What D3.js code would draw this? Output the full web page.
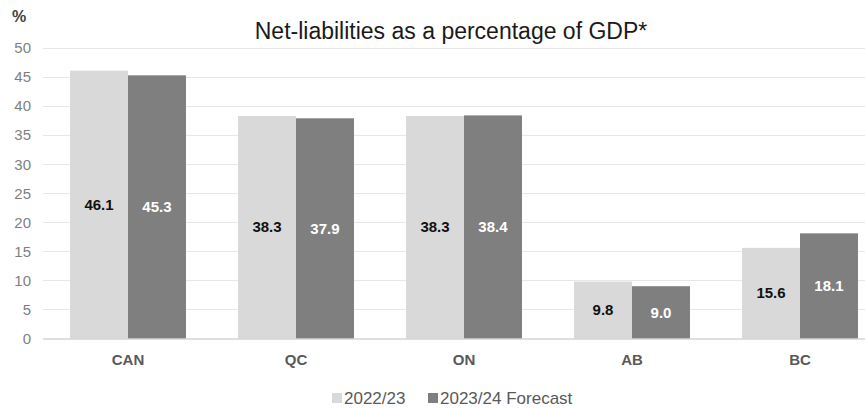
<!DOCTYPE html>
<html>
<head>
<meta charset="utf-8">
<script src="https://cdn.jsdelivr.net/npm/d3@7"></script>
<style>
  body { margin: 0; background: #fff; }
  svg { display: block; font-family: "Liberation Sans", Arial, sans-serif; }
</style>
</head>
<body>
<div id="chart"></div>
<script>
// Data
const provinces = ["CAN", "QC", "ON", "AB", "BC"];
const seriesNames = ["2022/23", "2023/24 Forecast"];
const values2022 = [46.1, 38.3, 38.3, 9.8, 15.6];
const values2023 = [45.3, 37.9, 38.4, 9.0, 18.1];
const yTicks = [0, 5, 10, 15, 20, 25, 30, 35, 40, 45, 50];

const width = 865, height = 408;
const colors = ["#d9d9d9", "#7f7f7f"];
const labelColors = ["#111", "#fff"];

const svg = d3.select("#chart").append("svg")
    .attr("width", width)
    .attr("height", height);

// Scales
const xScale = d3.scaleBand()
    .domain(provinces)
    .range([44, 884])
    .paddingInner(0.31)
    .paddingOuter(0.155);

const xSub = d3.scaleBand()
    .domain(seriesNames)
    .range([0, xScale.bandwidth()]);

const yScale = d3.scaleLinear()
    .domain([0, 50])
    .range([338.5, 48]);

// Gridlines
svg.append("g")
    .selectAll("line")
    .data(yTicks.filter(d => d > 0))
    .join("line")
        .attr("x1", 43)
        .attr("x2", width)
        .attr("y1", d => Math.round(yScale(d)) + 0.5)
        .attr("y2", d => Math.round(yScale(d)) + 0.5)
        .attr("stroke", "#e6e6e6")
        .attr("stroke-width", 1);

// Y axis labels
const leftAxis = d3.axisLeft(yScale).tickValues(yTicks).tickSize(0).tickPadding(0);
const yAxisG = svg.append("g")
    .attr("transform", "translate(31,0)")
    .call(leftAxis);
yAxisG.select(".domain").remove();
yAxisG.selectAll("text")
    .attr("font-size", 15)
    .attr("font-family", "Liberation Sans, Arial, sans-serif")
    .attr("fill", "#7f7f7f");

svg.append("text")
    .text("%")
    .attr("x", 12)
    .attr("y", 22)
    .attr("font-size", 16)
    .attr("font-weight", "bold")
    .attr("fill", "#404040");

// Bars
const rows = provinces.map((p, i) => ({ province: p, vals: [values2022[i], values2023[i]] }));

const groups = svg.append("g")
    .selectAll("g")
    .data(rows)
    .join("g")
        .attr("transform", d => `translate(${xScale(d.province)},0)`);

groups.selectAll("rect")
    .data(d => d.vals.map((v, k) => ({ name: seriesNames[k], v, k })))
    .join("rect")
        .attr("x", d => xSub(d.name))
        .attr("y", d => yScale(d.v))
        .attr("width", xSub.bandwidth())
        .attr("height", d => yScale(0) - yScale(d.v))
        .attr("fill", d => colors[d.k]);

groups.selectAll("text")
    .data(d => d.vals.map((v, k) => ({ name: seriesNames[k], v, k })))
    .join("text")
        .text(d => d.v.toFixed(1))
        .attr("x", d => xSub(d.name) + xSub.bandwidth() / 2)
        .attr("y", d => (yScale(d.v) + yScale(0)) / 2)
        .attr("dy", "0.35em")
        .attr("text-anchor", "middle")
        .attr("font-size", 15)
        .attr("font-weight", "bold")
        .attr("fill", d => labelColors[d.k]);

// Baseline
svg.append("line")
    .attr("x1", 43)
    .attr("x2", width)
    .attr("y1", 339)
    .attr("y2", 339)
    .attr("stroke", "#bfbfbf")
    .attr("stroke-width", 1);

// X axis labels
const bottomAxis = d3.axisBottom(xScale).tickSize(0).tickPadding(0);
const xAxisG = svg.append("g")
    .attr("transform", "translate(0,354)")
    .call(bottomAxis);
xAxisG.select(".domain").remove();
xAxisG.selectAll("text")
    .attr("font-size", 15)
    .attr("font-weight", "bold")
    .attr("font-family", "Liberation Sans, Arial, sans-serif")
    .attr("fill", "#595959");

// Title
svg.append("text")
    .text("Net-liabilities as a percentage of GDP*")
    .attr("x", 451)
    .attr("y", 39)
    .attr("text-anchor", "middle")
    .attr("font-size", 23)
    .attr("fill", "#1a1a1a");

// Legend
const legendX = [332, 428];
const legend = svg.append("g")
    .selectAll("g")
    .data(seriesNames)
    .join("g")
        .attr("transform", (d, i) => `translate(${legendX[i]},393)`);

legend.append("rect")
    .attr("width", 10)
    .attr("height", 10)
    .attr("fill", (d, i) => colors[i]);

legend.append("text")
    .text(d => d)
    .attr("x", 12)
    .attr("y", 11)
    .attr("font-size", 17)
    .attr("fill", "#595959");
</script>
</body>
</html>
